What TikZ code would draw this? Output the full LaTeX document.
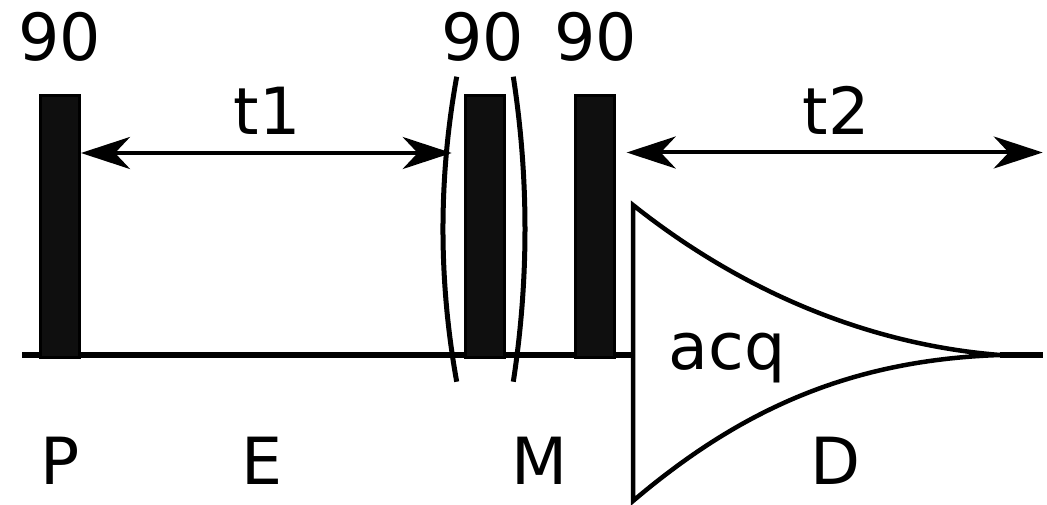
\documentclass[tikz,border=0pt]{standalone}
\usepackage{fontspec}
\setmainfont{DejaVu Sans}
\usetikzlibrary{arrows.meta}
\begin{document}
\begin{tikzpicture}[x=1pt,y=-1pt,
  lbl/.style={inner sep=0pt, anchor=base, font=\fontsize{65}{78}\selectfont},
  pulse/.style={draw=black, fill=black!94, line width=3pt, inner sep=0pt,
    minimum width=39pt, minimum height=262pt},
  axisline/.style={line width=5.5pt},
  paren/.style={line width=5pt},
  fid/.style={line width=4.5pt, line join=miter},
  span/.style={line width=4pt,
    {Stealth[length=49pt,width=32pt,inset=15pt]}-{Stealth[length=49pt,width=32pt,inset=15pt]}}]
\useasboundingbox (0,0) rectangle (1047,505);
% baseline
\coordinate (b0) at (22,355);
\coordinate (b1) at (633,355);
\coordinate (b2) at (1000,355);
\coordinate (b3) at (1043,355);
\draw[axisline] (b0) -- (b1);
\draw[axisline] (b2) -- (b3);
% pulses
\node[pulse] (p1) at (60,226.5) {};
\node[pulse] (p2) at (484.7,226.5) {};
\node[pulse] (p3) at (595.3,226.5) {};
% parentheses
\coordinate (lp1) at (456.7,76.7);
\coordinate (lp2) at (456.7,381.7);
\coordinate (rp1) at (513.3,76.7);
\coordinate (rp2) at (513.3,381.7);
\draw[paren] (lp1) .. controls (438.4,178) and (438.4,280) .. (lp2);
\draw[paren] (rp1) .. controls (528.9,178) and (528.9,280) .. (rp2);
% FID
\coordinate (f1) at (633,205);
\coordinate (f2) at (633,501);
\draw[fid] (b2) .. controls (885,346) and (755,302) .. (f1) -- (f2)
  .. controls (740,410) and (850,360) .. (b2);
% arrows
\coordinate (a1s) at (81,153);
\coordinate (a1e) at (451.7,153);
\coordinate (a2s) at (626.7,152.5);
\coordinate (a2e) at (1042.7,152.5);
\draw[span] (a1s) -- (a1e);
\draw[span] (a2s) -- (a2e);
% labels
\node[lbl] (n1) at (60,61) {90};
\node[lbl] (n2) at (483,61) {90};
\node[lbl] (n3) at (596,61) {90};
\node[lbl] (lt1) at (267,135) {t1};
\node[lbl] (lt2) at (836,135) {t2};
\node[lbl] (acq) at (727,369) {acq};
\node[lbl] (lP) at (60,484) {P};
\node[lbl] (lE) at (262.5,484) {E};
\node[lbl] (lM) at (540,484) {M};
\node[lbl] (lD) at (836,484) {D};
\end{tikzpicture}
\end{document}
